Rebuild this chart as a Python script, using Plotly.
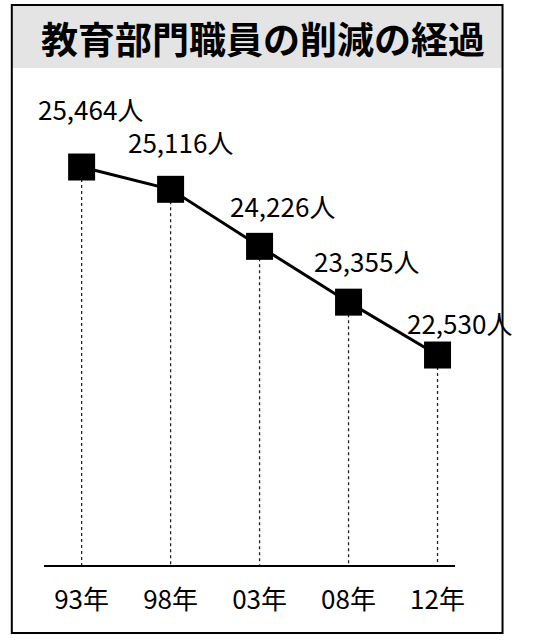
import plotly.graph_objects as go

years = ["93年", "98年", "03年", "08年", "12年"]
staff = [25464, 25116, 24226, 23355, 22530]
value_labels = ["25,464人", "25,116人", "24,226人", "23,355人", "22,530人"]
title_text = "教育部門職員の削減の経過"

W, H = 543, 640
FONT = "Noto Sans CJK JP"

def px(xp):
    return xp / W

def py(yp):
    return 1 - yp / H

y_range = [19253, 26666]

fig = go.Figure()

fig.add_trace(go.Scatter(
    x=years, y=staff, mode="lines+markers",
    line=dict(color="black", width=3),
    marker=dict(symbol="square", size=27, color="black"),
    hoverinfo="skip", showlegend=False, cliponaxis=False,
))

shapes = []
shapes.append(dict(type="rect", xref="paper", yref="paper",
                   x0=px(12), x1=px(511), y0=py(68), y1=py(5),
                   fillcolor="#e4e4e4", line=dict(width=0), layer="below"))
shapes.append(dict(type="rect", xref="paper", yref="paper",
                   x0=px(12), x1=px(511), y0=py(633), y1=py(5),
                   fillcolor="rgba(0,0,0,0)", line=dict(color="black", width=2)))
for xc, v in zip(years, staff):
    shapes.append(dict(type="line", xref="x", yref="y",
                       x0=xc, x1=xc, y0=v, y1=y_range[0],
                       line=dict(color="#222222", width=1.3, dash="dot"),
                       layer="below"))

shifts = [(9, 59), (10, 48), (23, 41), (18, 42), (22, 33)]
annotations = []
for (xc, v, lab), (dx, dy) in zip(zip(years, staff, value_labels), shifts):
    annotations.append(dict(x=xc, y=v, xref="x", yref="y", text=lab,
                            showarrow=False, xshift=dx, yshift=dy,
                            xanchor="center", yanchor="middle",
                            font=dict(family=FONT, size=26, color="black")))
annotations.append(dict(x=px(267), y=py(38), xref="paper", yref="paper",
                        text=title_text, showarrow=False,
                        xanchor="center", yanchor="middle",
                        font=dict(family=FONT, size=37, color="black", weight="bold")))

fig.update_layout(
    width=W, height=H, autosize=False,
    margin=dict(l=0, r=0, t=0, b=0),
    paper_bgcolor="white", plot_bgcolor="white",
    shapes=shapes, annotations=annotations,
    xaxis=dict(type="category", domain=[px(45), px(463)], range=[-0.42, 4.2],
               showline=True, linecolor="black", linewidth=1.5,
               showgrid=False, zeroline=False, ticks="",
               tickfont=dict(family=FONT, size=26, color="black"),
               ticklabelstandoff=11),
    yaxis=dict(domain=[py(565), py(90)], range=y_range,
               showline=False, showgrid=False, zeroline=False,
               showticklabels=False, ticks=""),
)

fig.write_html("out.html",
               config={"displayModeBar": False, "responsive": False},
               post_script="document.body.style.margin='0';document.body.style.padding='0';document.body.style.overflow='hidden';")
